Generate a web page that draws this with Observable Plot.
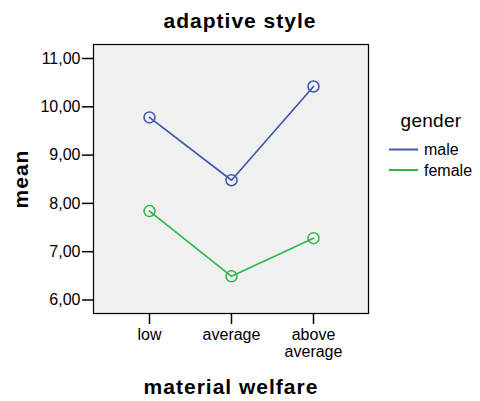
<!DOCTYPE html>
<html><head><meta charset="utf-8">
<script src="https://cdn.jsdelivr.net/npm/d3@7"></script>
<script src="https://cdn.jsdelivr.net/npm/@observablehq/plot@0.6"></script>
<style>body{margin:0;background:#fff;}</style>
</head><body><div id="chart"></div>
<script>
const categories = ["low", "average", "above average"];
const genders = ["male", "female"];
const maleMeans = [9.78, 8.48, 10.42];
const femaleMeans = [7.84, 6.49, 7.28];
const yTicks = [6, 7, 8, 9, 10, 11];
const colors = ["#3e58ac", "#2eb848"];
const titleText = "adaptive style";
const xLabel = "material welfare";
const yLabel = "mean";
const legendTitle = "gender";

const data = [
  ...categories.map((c, i) => ({welfare: c, gender: "male", mean: maleMeans[i]})),
  ...categories.map((c, i) => ({welfare: c, gender: "female", mean: femaleMeans[i]}))
];

const FONT = "'Liberation Sans', Arial, sans-serif";
const W = 480, H = 401;

const chart = Plot.plot({
  width: W, height: H,
  marginLeft: 93, marginRight: 112, marginTop: 44, marginBottom: 88,
  style: {fontFamily: FONT, fontSize: "16px", color: "black", background: "white", overflow: "visible"},
  x: {type: "point", domain: categories, padding: 0.66},
  y: {domain: [5.72, 11.29]},
  color: {domain: genders, range: colors},
  marks: [
    Plot.frame({fill: "#f0f0f0", stroke: "black", strokeWidth: 1.2}),
    Plot.line(data, {x: "welfare", y: "mean", z: "gender", stroke: "gender", strokeWidth: 1.7}),
    Plot.dot(data, {x: "welfare", y: "mean", stroke: "gender", r: 5.5, strokeWidth: 1.5, fill: "none"}),
    Plot.axisX({ticks: categories, tickSize: 11, tickPadding: 4, label: null, stroke: "black", strokeWidth: 1.5,
      tickFormat: d => d === "above average" ? "above\naverage" : d, lineHeight: 1.05, fontSize: 16}),
    Plot.axisY({ticks: yTicks, tickSize: 11, tickPadding: 2, label: null, stroke: "black", strokeWidth: 1.5,
      tickFormat: d => d.toFixed(2).replace(".", ","), fontSize: 16})
  ]
});

document.getElementById("chart").appendChild(chart);
const svg = d3.select(chart);

function bold(t) {
  return t.attr("font-family", FONT).attr("font-size", 21).attr("font-weight", "bold")
    .attr("letter-spacing", "1px").attr("fill", "black");
}
bold(svg.append("text").attr("x", W / 2).attr("y", 28).attr("text-anchor", "middle")).text(titleText);
bold(svg.append("text").attr("x", 231).attr("y", 394).attr("text-anchor", "middle")).text(xLabel);
bold(svg.append("text").attr("transform", "translate(28,179) rotate(-90)").attr("text-anchor", "middle")).text(yLabel);

const lg = svg.append("g");
lg.append("text").attr("x", 431).attr("y", 127).attr("text-anchor", "middle")
  .attr("font-family", FONT).attr("font-size", 19).attr("letter-spacing", "0.3px").attr("fill", "black").text(legendTitle);
genders.forEach((g, i) => {
  const y = 149.5 + i * 20.5;
  lg.append("line").attr("x1", 389).attr("x2", 418).attr("y1", y).attr("y2", y)
    .attr("stroke", colors[i]).attr("stroke-width", 2);
  lg.append("text").attr("x", 424).attr("y", y + 5.5).attr("text-anchor", "start").attr("font-family", FONT)
    .attr("font-size", 16).attr("fill", "black").text(g);
});
</script></body></html>
